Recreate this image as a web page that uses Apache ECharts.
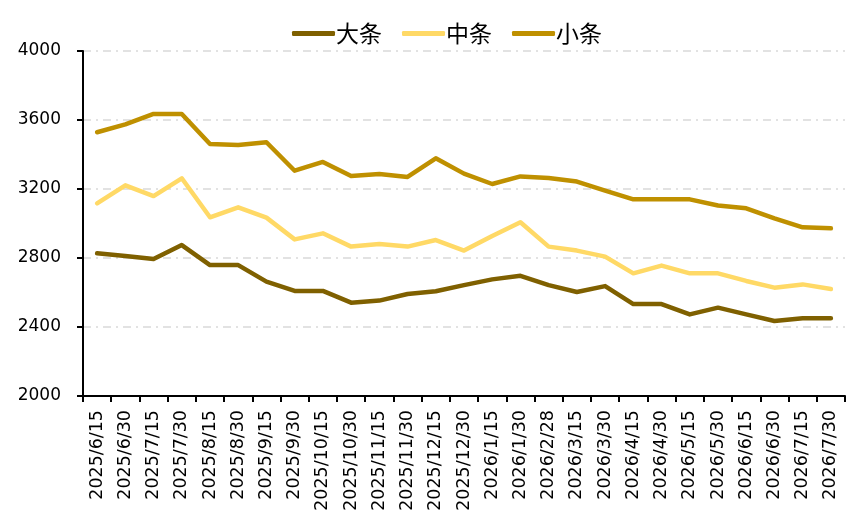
<!DOCTYPE html>
<html>
<head>
<meta charset="utf-8">
<script src="https://cdn.jsdelivr.net/npm/echarts@6/dist/echarts.min.js"></script>
<style>html,body{margin:0;padding:0;background:#fff;}#c{width:865px;height:516px;}</style>
</head>
<body>
<div id="c"></div>
<script>
var categories = ['2025/6/15','2025/6/30','2025/7/15','2025/7/30','2025/8/15','2025/8/30','2025/9/15','2025/9/30','2025/10/15','2025/10/30','2025/11/15','2025/11/30','2025/12/15','2025/12/30','2026/1/15','2026/1/30','2026/2/28','2026/3/15','2026/3/30','2026/4/15','2026/4/30','2026/5/15','2026/5/30','2026/6/15','2026/6/30','2026/7/15','2026/7/30'];
var daTiao = [2827,2812,2794,2875,2759,2759,2663,2609,2609,2541,2553,2591,2607,2643,2676,2697,2643,2603,2637,2533,2533,2473,2512,2473,2435,2451,2451];
var zhongTiao = [3117,3221,3159,3262,3036,3094,3034,2908,2943,2866,2881,2866,2904,2843,2928,3007,2866,2843,2808,2711,2756,2711,2711,2667,2628,2647,2620];
var xiaoTiao = [3529,3575,3635,3635,3461,3455,3471,3306,3357,3275,3287,3270,3378,3289,3229,3273,3264,3243,3191,3140,3140,3140,3104,3088,3030,2978,2972];
var seriesNames = ['大条','中条','小条'];
var yTicks = {min:2000, max:4000, interval:400};

var colors = ['#7F6000','#FFD966','#BF9000'];
var chart = echarts.init(document.getElementById('c'));
function mk(name, data, color){
  return {name:name, type:'line', data:data, symbol:'none', smooth:false,
    lineStyle:{color:color, width:4.5, cap:'round', join:'round'}, itemStyle:{color:color}};
}
chart.setOption({
  animation:false,
  backgroundColor:'#fff',
  color:colors,
  legend:{
    data:seriesNames, left:287, top:17, itemGap:20, itemWidth:43, itemHeight:5,
    icon:'roundRect',
    textStyle:{fontFamily:'Noto Sans CJK SC', fontSize:23, color:'#000', padding:[0,0,0,-4]}
  },
  grid:{left:83, right:20, top:51, bottom:120, containLabel:false},
  xAxis:{
    type:'category', data:categories, boundaryGap:true,
    axisLine:{lineStyle:{color:'#000', width:2}},
    axisTick:{show:true, alignWithLabel:false, length:6, interval:0, lineStyle:{color:'#000', width:2}},
    axisLabel:{interval:0, rotate:90, margin:14, color:'#000', fontFamily:'DejaVu Sans', fontSize:17.5},
    splitLine:{show:false}
  },
  yAxis:{
    type:'value', min:yTicks.min, max:yTicks.max, interval:yTicks.interval,
    axisLine:{show:true, lineStyle:{color:'#000', width:2}},
    axisTick:{show:true, length:6, lineStyle:{color:'#000', width:2}},
    axisLabel:{margin:22, color:'#000', fontFamily:'DejaVu Sans', fontSize:17, formatter:function(v){return String(v);}},
    splitLine:{show:true, lineStyle:{color:'#D9D9D9', width:1.5, type:[8,5,2,5]}}
  },
  series:[mk(seriesNames[0], daTiao, colors[0]), mk(seriesNames[1], zhongTiao, colors[1]), mk(seriesNames[2], xiaoTiao, colors[2])]
});
</script>
</body>
</html>
